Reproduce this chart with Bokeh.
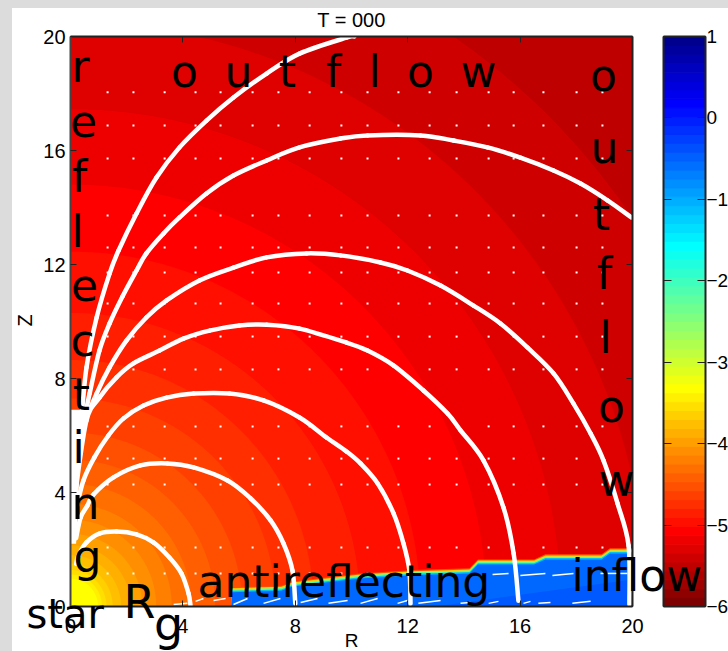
import numpy as np
from bokeh.plotting import figure
from bokeh.models import Range1d, LinearAxis, FixedTicker, Label
from bokeh.embed import file_html
from bokeh.resources import INLINE

# ---------------- data ----------------
title_text = "T = 000"
x_ticks = [0, 4, 8, 12, 16, 20]
y_ticks = [0, 4, 8, 12, 16, 20]
cb_ticks = [-6, -5, -4, -3, -2, -1, 0, 1]

# radii of the circular colour contours, outermost first
contour_radii = [24.2, 20.5, 17.45, 14.8, 12.45, 10.3, 8.65, 7.3, 6.1, 5.15,
                 4.3, 3.6, 3.05, 2.55, 2.15, 1.8, 1.5, 1.28, 1.12, 0.98]
first_band_index = 4  # palette step of the corner band

line_a_r = [0.2, 0.28, 0.57, 1.03, 1.64, 2.35, 2.95, 3.52, 3.95, 4.2, 4.27]
line_a_z = [1.5, 1.79, 2.25, 2.56, 2.63, 2.53, 2.25, 1.72, 1.16, 0.46, 0.04]
line_b_r = [0.2, 0.36, 0.6, 0.82, 1.53, 2.49, 3.45, 4.38, 5.59, 6.41, 7.12, 7.58, 7.9, 8.0]
line_b_z = [2.4, 3.12, 3.54, 3.93, 4.53, 4.95, 5.02, 4.88, 4.42, 3.79, 3.02, 2.21, 1.26, 0.1]
line_c_r = [0.2, 0.46, 0.85, 1.35, 1.89, 2.6, 3.42, 4.38, 5.66, 6.87, 8.15, 9.11, 9.82, 10.32,
            10.93, 11.5, 11.85, 12.06, 12.1]
line_c_z = [3.4, 4.42, 5.23, 6.0, 6.6, 7.05, 7.33, 7.47, 7.47, 7.23, 6.63, 5.93, 5.44, 5.02,
            4.32, 3.26, 2.21, 1.26, 0.1]
line_d_r = [0.2, 0.57, 1.03, 1.64, 2.24, 3.17, 4.02, 4.95, 6.01, 6.98, 8.15, 9.82, 10.57, 11.49,
            12.56, 13.42, 13.88, 14.7, 15.41, 15.77, 15.94]
line_d_z = [4.2, 6.53, 7.33, 8.04, 8.53, 8.98, 9.4, 9.68, 9.86, 9.89, 9.75, 9.26, 8.98, 8.46,
            7.58, 6.77, 6.18, 5.12, 3.47, 1.86, 0.2]
line_e_r = [0.2, 0.46, 0.93, 1.39, 1.99, 2.7, 3.42, 4.59, 5.8, 6.98, 8.4, 9.61, 11.03, 11.99,
            13.17, 14.34, 15.3, 16.26, 17.19, 17.9, 18.51, 18.97, 19.47, 19.86, 19.89]
line_e_z = [4.6, 6.28, 7.47, 8.39, 9.33, 10.14, 10.74, 11.44, 11.89, 12.25, 12.39, 12.32, 12.07, 11.79,
            11.26, 10.56, 9.93, 9.09, 8.18, 7.12, 6.07, 5.12, 3.61, 2.14, 0.07]
line_f_r = [0.2, 0.46, 0.68, 1.03, 1.39, 1.85, 2.35, 2.7, 3.31, 3.88, 4.84, 5.8, 6.98, 8.15, 9.61,
            10.57, 12.46, 13.63, 14.84, 16.01, 17.19, 18.15, 19.11, 19.96]
line_f_z = [4.8, 6.42, 7.47, 8.98, 9.93, 10.88, 11.79, 12.39, 13.09, 13.65, 14.49, 15.12, 15.65, 16.11, 16.42,
            16.53, 16.53, 16.35, 16.11, 15.75, 15.3, 14.84, 14.25, 13.65]
line_g_r = [0.2, 0.39, 0.57, 0.93, 1.39, 1.71, 2.35, 3.06, 3.88, 4.84, 5.8, 6.98, 8.15, 9.82, 10.1]
line_g_z = [5.0, 6.63, 8.39, 10.14, 11.68, 12.49, 13.79, 15.05, 16.11, 17.05, 17.86, 18.7, 19.4, 19.96, 20.0]
field_lines = [(line_a_r, line_a_z), (line_b_r, line_b_z), (line_c_r, line_c_z), (line_d_r, line_d_z),
               (line_e_r, line_e_z), (line_f_r, line_f_z), (line_g_r, line_g_z)]

wall_r = [0.0, 0.36, 0.3, 0.2, 0.0]
wall_z = [6.9, 6.9, 4.3, 2.2, 2.2]

dot_r = [1.32, 2.24, 3.35, 4.45, 5.34, 6.48, 7.40, 8.51, 9.64, 10.57, 11.67, 12.78, 13.74, 14.88,
         15.77, 16.83, 18.01, 18.93]
dot_z = [18.04, 16.88, 15.72, 13.72, 12.6, 11.72, 10.63, 9.47, 8.32, 6.32, 5.19, 4.28, 2.07, 1.16]

inflow_r = [5.72, 5.75, 7.5, 7.9, 10.3, 12.2, 14.2, 14.5, 16.5, 16.9, 18.9, 19.2, 20.0]
inflow_top = [0.0, 0.5, 0.55, 0.7, 0.98, 1.1, 1.16, 1.47, 1.47, 1.65, 1.65, 1.86, 1.86]
inflow_step = [0.18, 0.14, 0.1, 0.05]
inflow_step_colors = ["#ff5000", "#ffd000", "#60ff90", "#00c0ff"]
inflow_low_r = [13.0, 20.0, 20.0]
inflow_low_z = [0.0, 0.95, 0.0]

dash_r0 = [3.67, 4.45, 5.09, 5.8, 6.87, 8.19, 9.18, 10.32, 11.64, 12.38, 13.88, 14.88, 16.12, 16.65, 17.86,
           15.02, 16.01, 17.15, 18.86]
dash_z0 = [0.07, 0.18, 0.21, 0.07, 0.11, 0.14, 0.11, 0.11, 0.11, 0.11, 0.11, 0.11, 0.11, 0.11, 0.11,
           1.12, 1.09, 1.09, 1.16]
dash_r1 = [4.16, 4.73, 5.52, 6.3, 7.47, 8.79, 9.86, 10.93, 11.99, 13.17, 14.23, 15.23, 16.37, 17.08, 18.51,
           15.59, 16.9, 17.9, 19.82]
dash_z1 = [0.11, 0.28, 0.28, 0.28, 0.28, 0.28, 0.21, 0.28, 0.21, 0.21, 0.14, 0.18, 0.18, 0.14, 0.18,
           1.16, 1.16, 1.16, 1.16]

reflecting_letters = list("reflecting")
outflow_letters = list("outflow")

# ---------------- colour scale: 64 steps of jet, dark red first ----------------
def jet(n=64):
    pos = (np.arange(n) + 1) / n
    red = np.interp(pos, [0, .375, .625, .875, 1], [0, 0, 1, 1, .5])
    grn = np.interp(pos, [0, .125, .375, .625, .875, 1], [0, 0, 1, 1, 0, 0])
    blu = np.interp(pos, [0, .125, .375, .625, 1], [.5, 1, 1, 0, 0])
    return ["#%02x%02x%02x" % (int(r * 255), int(g * 255), int(b * 255)) for r, g, b in zip(red, grn, blu)]

palette = jet()[::-1]

# ---------------- geometry: the frame fills the figure, so nothing is clipped ----------------
FONT = "DejaVu Sans"
TICK_FONT = "Liberation Sans"

def X(px):
    return (px - 70) / 562 * 20

def Y(py):
    return (606 - py) / 570 * 20

def CB(z):
    return -6 + z / 20 * 7

x0, x1, y0, y1 = X(12), X(728), Y(651), Y(8)
CB_L, CB_R = X(663), X(705)

p = figure(width=716, height=643, min_border=0, x_range=Range1d(x0, x1), y_range=Range1d(y0, y1),
           x_axis_location=None, y_axis_location=None,
           output_backend="svg", toolbar_location=None)
p.extra_y_ranges = {"cb": Range1d(CB(y0), CB(y1))}
p.outline_line_color = None
p.grid.visible = False
p.background_fill_color = "white"
p.border_fill_color = "white"

# field bands: each contour is a quarter circle held inside the axes
p.quad(left=0, right=20, bottom=0, top=20, fill_color=palette[first_band_index], line_color=None)
theta = np.radians(np.arange(0, 90.5, 0.5))
for i, r in enumerate(contour_radii):
    arc_r = np.clip(r * np.cos(theta), 0, 20)
    arc_z = np.clip(r * np.sin(theta), 0, 20)
    p.patch(np.r_[0, arc_r], np.r_[0, arc_z], fill_color=palette[first_band_index + 1 + i], line_color=None)

# dots of the vector field
dx, dy = np.meshgrid(dot_r, dot_z)
p.scatter(dx.ravel(), dy.ravel(), marker="square", size=2, fill_color="white", line_color=None)

# inflow layer
top = np.array(inflow_top)
for step, col in zip(inflow_step, inflow_step_colors):
    tops = np.where(top > 0, top + step, 0)
    p.varea(x=inflow_r, y1=[0] * len(inflow_r), y2=tops, fill_color=col)
p.varea(x=inflow_r, y1=[0] * len(inflow_r), y2=top, fill_color="#0068ff")
p.patch(inflow_low_r, inflow_low_z, fill_color="#0058ff", line_color=None)

# field lines: a smooth curve through the points that were read
p.patch(wall_r, wall_z, fill_color="white", line_color=None)
for rr, zz in field_lines:
    rr = np.array(rr)
    zz = np.array(zz)
    r_ext = np.r_[rr[0], rr, rr[-1]]
    z_ext = np.r_[zz[0], zz, zz[-1]]
    p.bezier(x0=rr[:-1], y0=zz[:-1], x1=rr[1:], y1=zz[1:],
             cx0=rr[:-1] + (r_ext[2:-1] - r_ext[:-3]) / 6, cy0=zz[:-1] + (z_ext[2:-1] - z_ext[:-3]) / 6,
             cx1=rr[1:] - (r_ext[3:] - r_ext[1:-2]) / 6, cy1=zz[1:] - (z_ext[3:] - z_ext[1:-2]) / 6,
             line_color="white", line_width=4.5, line_cap="round")
p.segment(dash_r0, dash_z0, dash_r1, dash_z1, line_color="white", line_width=1.5)

# colour bar
lev = np.linspace(-6, 1, 65)
p.quad(left=CB_L, right=CB_R, bottom=lev[:-1], top=lev[1:], fill_color=palette, line_color=palette,
       line_width=1, y_range_name="cb")

# axes (each one fixed inside the frame)
AX = "#222222"
def make_axis(side, at, ticks, bounds=None, in_len=6, range_name=None, color=AX):
    kw = dict(fixed_location=at, ticker=FixedTicker(ticks=ticks))
    if bounds is not None:
        kw["bounds"] = bounds
    if range_name is not None:
        kw["y_range_name"] = range_name
    ax = LinearAxis(**kw)
    ax.axis_line_color = color
    ax.axis_line_width = 2
    ax.major_tick_line_color = AX
    ax.major_tick_line_width = 1
    ax.major_tick_in = in_len
    ax.major_tick_out = 0
    ax.minor_tick_line_color = None
    ax.major_label_overrides = {t: "" for t in ticks}
    p.add_layout(ax, side)

make_axis("below", 0, x_ticks, (0, 20))
make_axis("left", 0, y_ticks, (0, 20), color="#444444")
make_axis("above", 20, x_ticks, (0, 20))
make_axis("right", 20, y_ticks, (0, 20))
make_axis("left", CB_L, cb_ticks, (-6, 1), 8, "cb")
make_axis("right", CB_R, cb_ticks, (-6, 1), 8, "cb")
make_axis("above", 20, [], (CB_L, CB_R))
make_axis("below", 0, [], (CB_L, CB_R))

# tick labels
def tick_label(xx, yy, t, align, base, rng="default", size="20px"):
    p.add_layout(Label(x=xx, y=yy, y_range_name=rng, text=t, text_font=TICK_FONT, text_font_size=size,
                       text_color="black", text_align=align, text_baseline=base))

for t in x_ticks:
    tick_label(t, Y(618), str(t), "center", "top")
for t in y_ticks:
    tick_label(X(65), t, str(t), "right", "middle")
for t in cb_ticks:
    tick_label(X(706), t, ("−%d" % -t) if t < 0 else str(t), "left", "middle", "cb", "19px")

# annotations
def text_set(texts, xs, ys, size, align="center", font=FONT, angle=0.0):
    # the page draws "alphabetic" text about 0.36 em low, so it is lifted by that much
    lift = 0.36 * float(size[:-2]) if angle == 0 else 0
    for t, xx, yy in zip(texts, xs, ys):
        p.add_layout(Label(x=X(xx), y=Y(yy - lift), text=t, text_font=font, text_font_size=size,
                           text_align=align, text_baseline="alphabetic", text_color="black", angle=angle))

text_set(reflecting_letters,
         [80, 83, 79, 77, 84, 82, 81, 78, 85, 87],
         [82, 136, 192, 247, 300, 356, 410, 463, 519, 572], "44px")
text_set(outflow_letters, [184, 238, 287, 333, 374, 420, 478], [87] * 7, "44px")
text_set(outflow_letters, [603, 604, 601, 604, 605, 611, 616],
         [91, 163, 230, 289, 353, 422, 496], "44px")
text_set(["antireflecting", "inflow"], [197, 571], [597, 591], "44px", align="left")
text_set(["star"], [26], [628], "40px", align="left")
text_set(["R", "g"], [139, 168], [618, 640], "46px")
text_set([title_text], [351], [27], "20px", font=TICK_FONT)
text_set(["R"], [351], [647], "19px", font=TICK_FONT)
text_set(["Z"], [24], [320], "20px", font=TICK_FONT, angle=np.pi / 2)

css = ("<style>html,body{margin:0!important;padding:0!important;overflow:hidden;background:none}"
       "html{background:linear-gradient(to right,#dcdcdc 12px,transparent 12px),"
       "linear-gradient(#dcdcdc 8px,#ffffff 8px)!important}"
       "body{margin:8px 0 0 12px!important}</style></head>")
html = file_html(p, INLINE).replace("</head>", css, 1)
open("out.html", "w").write(html)
